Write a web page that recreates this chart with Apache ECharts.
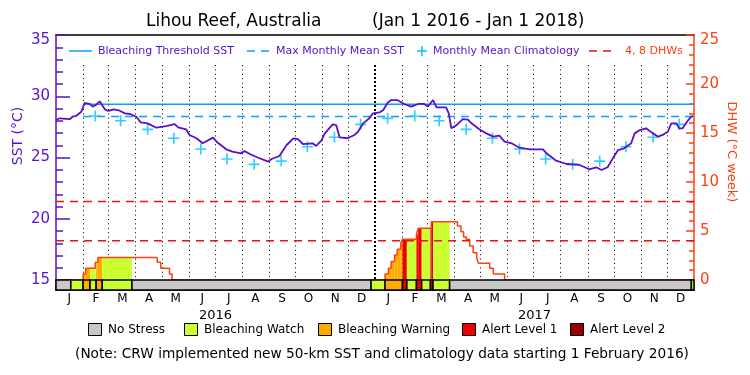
<!DOCTYPE html>
<html>
<head>
<meta charset="utf-8">
<script src="https://cdn.jsdelivr.net/npm/echarts@6/dist/echarts.min.js"></script>
<style>
html, body { margin: 0; padding: 0; background: #fff; }
#chart { width: 750px; height: 375px; }
</style>
</head>
<body>
<div id="chart"></div>
<script>
// daily SST
var sstDates = ['2016-01-01','2016-01-05','2016-01-17','2016-01-20','2016-01-24','2016-01-30','2016-02-03','2016-02-05','2016-02-09','2016-02-12','2016-02-16','2016-02-20','2016-02-26','2016-03-01','2016-03-07','2016-03-14','2016-03-20','2016-03-26','2016-04-02','2016-04-07','2016-04-15','2016-04-25','2016-05-06','2016-05-16','2016-05-20','2016-05-29','2016-06-02','2016-06-10','2016-06-17','2016-06-29','2016-07-03','2016-07-14','2016-07-21','2016-07-31','2016-08-04','2016-08-10','2016-08-19','2016-08-31','2016-09-04','2016-09-13','2016-09-21','2016-09-29','2016-10-04','2016-10-10','2016-10-21','2016-10-25','2016-10-31','2016-11-04','2016-11-13','2016-11-17','2016-11-21','2016-11-30','2016-12-08','2016-12-12','2016-12-18','2016-12-25','2016-12-29','2017-01-06','2017-01-10','2017-01-15','2017-01-19','2017-01-26','2017-02-03','2017-02-11','2017-02-19','2017-02-26','2017-03-02','2017-03-08','2017-03-12','2017-03-23','2017-03-26','2017-03-29','2017-04-04','2017-04-11','2017-04-17','2017-04-21','2017-04-30','2017-05-08','2017-05-16','2017-05-23','2017-05-29','2017-06-06','2017-06-15','2017-06-27','2017-07-12','2017-07-16','2017-07-27','2017-08-08','2017-08-23','2017-09-03','2017-09-11','2017-09-17','2017-09-24','2017-09-30','2017-10-06','2017-10-13','2017-10-21','2017-10-25','2017-10-31','2017-11-07','2017-11-15','2017-11-21','2017-11-26','2017-12-02','2017-12-06','2017-12-12','2017-12-15','2017-12-19','2017-12-24','2017-12-28','2017-12-31'];
var sstValues = [28.06,28.2,28.14,28.33,28.39,28.74,29.47,29.59,29.35,29.15,29.3,29.59,28.93,28.8,28.93,28.82,28.6,28.55,28.33,27.87,27.79,27.43,27.57,27.73,27.46,27.3,26.84,26.57,26.16,26.62,26.29,25.67,25.48,25.34,25.53,25.29,25.0,24.66,24.88,25.12,26.0,26.57,26.5,26.1,26.16,25.94,26.37,26.97,27.71,27.65,26.65,26.57,26.84,27.1,27.79,28.2,28.6,28.69,28.88,29.47,29.69,29.69,29.37,29.15,29.37,29.37,29.15,29.69,29.1,29.1,28.6,27.38,27.65,28.14,28.1,27.79,27.3,26.97,26.7,26.78,26.29,26.16,25.8,25.67,25.67,25.34,24.74,24.47,24.39,24.04,24.2,23.98,24.2,24.93,25.61,25.75,26.16,26.97,27.24,27.38,26.97,26.7,26.84,27.1,27.79,27.79,27.38,27.38,27.92,28.28,28.39];

// monthly mean climatology (crosses, mid-month)
var climDates = ['2016-02-15','2016-03-15','2016-04-15','2016-05-15','2016-06-15','2016-07-15','2016-08-15','2016-09-15','2016-10-15','2016-11-15','2016-12-15','2017-01-15','2017-02-15','2017-03-15','2017-04-15','2017-05-15','2017-06-15','2017-07-15','2017-08-15','2017-09-15','2017-10-15','2017-11-15','2017-12-15'];
var climValues = [28.39,28.0,27.3,26.57,25.69,24.88,24.44,24.71,25.88,26.65,27.71,28.2,28.39,28.0,27.3,26.57,25.69,24.88,24.44,24.71,25.88,26.65,27.71];

var mmmSST = 28.35;
var thresholdSST = 29.35;
var thresholdStart = '2016-02-01';
var dhwMarks = [4, 8];

// degree heating weeks, each value holds until the next date
var dhwDates = ['2016-02-01','2016-02-04','2016-02-15','2016-02-18','2016-04-26','2016-04-30','2016-05-10','2016-05-13',
  '2017-01-12','2017-01-16','2017-01-19','2017-01-23','2017-01-26','2017-01-30','2017-02-01','2017-02-17','2017-02-19','2017-03-06','2017-04-05','2017-04-09','2017-04-12','2017-04-15','2017-04-19','2017-04-23','2017-04-27','2017-04-29','2017-05-12','2017-05-16','2017-05-29'];
var dhwValues = [0.6,1.2,1.8,2.3,1.8,1.2,0.6,0,
  0.6,1.2,1.9,2.55,3.13,3.74,4.15,4.66,5.27,5.95,5.51,4.93,4.4,4.15,3.47,2.79,2.21,1.7,1.19,0.61,0];

// stress level, each level holds until the next date
var stressStarts = ['2016-01-01','2016-01-18','2016-02-01','2016-02-09','2016-02-16','2016-02-23','2016-03-28','2016-12-27','2017-01-12','2017-02-01','2017-02-06','2017-02-17','2017-02-23','2017-03-05','2017-03-08','2017-03-27','2017-12-29'];
var stressLevels = ['none','watch','warning','watch','warning','watch','none','watch','warning','alert1','watch','alert1','watch','alert1','watch','none','watch'];

var monthStarts = ['2016-02-01','2016-03-01','2016-04-01','2016-05-01','2016-06-01','2016-07-01','2016-08-01','2016-09-01','2016-10-01','2016-11-01','2016-12-01','2017-01-01','2017-02-01','2017-03-01','2017-04-01','2017-05-01','2017-06-01','2017-07-01','2017-08-01','2017-09-01','2017-10-01','2017-11-01','2017-12-01'];
var monthLabels = ['J','F','M','A','M','J','J','A','S','O','N','D','J','F','M','A','M','J','J','A','S','O','N','D'];
var yearLabels = ['2016', '2017'];

var legendNames = ['No Stress', 'Bleaching Watch', 'Bleaching Warning', 'Alert Level 1', 'Alert Level 2'];
var legendKeys = ['none', 'watch', 'warning', 'alert1', 'alert2'];

var FONT = 'DejaVu Sans';
var PURPLE = '#5a10c8';
var ORANGE = '#ff4010';
var BLUE = '#0aa0ff';
var CYAN = '#00c0ff';
var RED = '#ee1111';
var stressColors = { none: '#c8c8c8', watch: '#ccff33', warning: '#ffaa00', alert1: '#ee0000', alert2: '#990000' };
var X_MIN = '2016-01-01', X_MAX = '2018-01-01';

function levelAt(d) {
  var lv = 'none';
  for (var i = 0; i < stressStarts.length; i++) if (stressStarts[i] <= d) lv = stressLevels[i];
  return lv;
}
function dhwAt(d) {
  var v = 0;
  for (var i = 0; i < dhwDates.length; i++) if (dhwDates[i] <= d) v = dhwValues[i];
  return v;
}

var sstData = sstDates.map(function (d, i) { return [d, sstValues[i]]; });
var climData = climDates.map(function (d, i) { return [d, climValues[i]]; });

var stressData = stressStarts.map(function (d, i) {
  return [d, stressStarts[i + 1] || X_MAX, i];
});

// coloured DHW pieces: split at every dhw step and stress change
var breaks = dhwDates.concat(stressStarts, [X_MAX]).filter(function (d, i, a) { return a.indexOf(d) === i; }).sort();
var dhwFill = [];
for (var i = 0; i < breaks.length - 1; i++) {
  var v = dhwAt(breaks[i]), lv = levelAt(breaks[i]);
  if (v > 0 && lv !== 'none') dhwFill.push([breaks[i], breaks[i + 1], v, stressColors[lv]]);
}
var dhwLine = [[X_MIN, 0]].concat(dhwDates.map(function (d, i) { return [d, dhwValues[i]]; }), [[X_MAX, 0]]);

var myChart = echarts.init(document.getElementById('chart'));

var graphic = [
  { type: 'line', shape: { x1: 69, y1: 51, x2: 92, y2: 51 }, style: { stroke: BLUE, lineWidth: 1.5 } },
  { type: 'text', x: 98, y: 51, style: { text: 'Bleaching Threshold SST', fill: PURPLE, font: '11px ' + FONT, verticalAlign: 'middle' } },
  { type: 'line', shape: { x1: 247, y1: 51, x2: 269, y2: 51 }, style: { stroke: BLUE, lineWidth: 1.5, lineDash: [8, 6] } },
  { type: 'text', x: 276, y: 51, style: { text: 'Max Monthly Mean SST', fill: PURPLE, font: '11px ' + FONT, verticalAlign: 'middle' } },
  { type: 'line', shape: { x1: 417, y1: 51, x2: 427, y2: 51 }, style: { stroke: CYAN, lineWidth: 1.5 } },
  { type: 'line', shape: { x1: 422, y1: 46, x2: 422, y2: 56 }, style: { stroke: CYAN, lineWidth: 1.5 } },
  { type: 'text', x: 433, y: 51, style: { text: 'Monthly Mean Climatology', fill: PURPLE, font: '11px ' + FONT, verticalAlign: 'middle' } },
  { type: 'line', shape: { x1: 589, y1: 51, x2: 612, y2: 51 }, style: { stroke: RED, lineWidth: 1.5, lineDash: [8, 6] } },
  { type: 'text', x: 625, y: 51, style: { text: '4, 8 DHWs', fill: ORANGE, font: '11px ' + FONT, verticalAlign: 'middle' } },
  { type: 'text', x: 18, y: 136, rotation: Math.PI / 2, style: { text: 'SST (°C)', fill: PURPLE, font: '14px ' + FONT, align: 'center', verticalAlign: 'middle' } },
  { type: 'text', x: 731, y: 152, rotation: -Math.PI / 2, style: { text: 'DHW (°C week)', fill: ORANGE, font: '13px ' + FONT, align: 'center', verticalAlign: 'middle' } },
  { type: 'text', x: 382, y: 354, style: { text: '(Note: CRW implemented new 50-km SST and climatology data starting 1 February 2016)', fill: '#000', font: '13.7px ' + FONT, align: 'center', verticalAlign: 'middle' } }
];
var legX = [88, 184, 318, 462, 570];
legendKeys.forEach(function (k, i) {
  graphic.push({ type: 'rect', shape: { x: legX[i] + 0.5, y: 323.5, width: 13, height: 12 }, style: { fill: stressColors[k], stroke: '#000', lineWidth: 1 } });
  graphic.push({ type: 'text', x: legX[i] + 20, y: 330, style: { text: legendNames[i], fill: '#000', font: '12px ' + FONT, verticalAlign: 'middle' } });
});

myChart.setOption({
  animation: false,
  backgroundColor: '#fff',
  title: [
    { text: 'Lihou Reef, Australia', left: 146, top: 13, padding: 0, textStyle: { fontFamily: FONT, fontSize: 17, fontWeight: 'normal', color: '#000' } },
    { text: '(Jan 1 2016 - Jan 1 2018)', left: 372, top: 13, padding: 0, textStyle: { fontFamily: FONT, fontSize: 17, fontWeight: 'normal', color: '#000' } }
  ],
  grid: [
    { left: 56, right: 56, top: 35, height: 245 },
    { left: 56, right: 56, top: 280, height: 10 },
    { left: 56, right: 56, top: 65, height: 215 }
  ],
  xAxis: [
    { gridIndex: 0, type: 'time', min: X_MIN, max: X_MAX, position: 'top',
      axisLine: { show: true, onZero: false, lineStyle: { color: '#000', width: 1.5 } },
      axisTick: { show: false }, axisLabel: { show: false }, splitLine: { show: false } },
    { gridIndex: 1, type: 'time', min: X_MIN, max: X_MAX, position: 'bottom',
      axisLine: { show: true, onZero: false, lineStyle: { color: '#000', width: 1.5 } },
      axisTick: { show: false }, axisLabel: { show: false }, splitLine: { show: false } },
    { gridIndex: 1, type: 'category', data: monthLabels, position: 'bottom',
      axisLine: { show: false, onZero: false }, axisTick: { show: false }, splitLine: { show: false },
      axisLabel: { color: '#000', fontFamily: FONT, fontSize: 12, margin: 3, interval: 0 } },
    { gridIndex: 1, type: 'category', data: yearLabels, position: 'bottom', offset: 16,
      axisLine: { show: false, onZero: false }, axisTick: { show: false }, splitLine: { show: false },
      axisLabel: { color: '#000', fontFamily: FONT, fontSize: 13, margin: 3, interval: 0 } },
    { gridIndex: 2, type: 'time', min: X_MIN, max: X_MAX, show: false }
  ],
  yAxis: [
    { gridIndex: 0, type: 'value', min: 15, max: 35, interval: 5, position: 'left',
      axisLine: { show: true, lineStyle: { color: PURPLE, width: 1.5 } },
      axisTick: { show: true, inside: true, length: 14, lineStyle: { color: PURPLE, width: 1.5 } },
      minorTick: { show: true, splitNumber: 5, length: 7, lineStyle: { color: PURPLE, width: 1.5 } },
      splitLine: { show: false },
      axisLabel: { color: PURPLE, fontFamily: FONT, fontSize: 15, margin: 6,
        formatter: function (v) { return v === 35 ? '{t|35}' : String(v); },
        rich: { t: { color: PURPLE, fontFamily: FONT, fontSize: 15, padding: [10, 0, 0, 0] } } } },
    { gridIndex: 0, type: 'value', min: 0, max: 25, interval: 5, position: 'right',
      axisLine: { show: true, lineStyle: { color: ORANGE, width: 1.5 } },
      axisTick: { show: true, inside: true, length: 8, lineStyle: { color: ORANGE, width: 1.5 } },
      minorTick: { show: true, splitNumber: 5, length: 5, lineStyle: { color: ORANGE, width: 1.5 } },
      splitLine: { show: false },
      axisLabel: { color: ORANGE, fontFamily: FONT, fontSize: 15, margin: 6,
        formatter: function (v) { return v === 25 ? '{t|25}' : String(v); },
        rich: { t: { color: ORANGE, fontFamily: FONT, fontSize: 15, padding: [10, 0, 0, 0] } } } },
    { gridIndex: 1, type: 'value', min: 0, max: 1, position: 'left',
      axisLine: { show: true, lineStyle: { color: PURPLE, width: 1.5 } },
      axisTick: { show: false }, axisLabel: { show: false }, splitLine: { show: false } },
    { gridIndex: 1, type: 'value', min: 0, max: 1, position: 'right',
      axisLine: { show: true, lineStyle: { color: ORANGE, width: 1.5 } },
      axisTick: { show: false }, axisLabel: { show: false }, splitLine: { show: false } },
    { gridIndex: 2, type: 'value', min: 0, max: 1, show: false }
  ],
  graphic: graphic,
  series: [
    {
      name: 'month lines', type: 'custom', xAxisIndex: 4, yAxisIndex: 4, z: 1,
      data: monthStarts.map(function (d) { return [d, d.slice(5) === '01-01' ? 1 : 0]; }),
      encode: { x: 0 },
      renderItem: function (params, api) {
        var top = api.coord([api.value(0), 1]);
        var bot = api.coord([api.value(0), 0]);
        var yr = api.value(1) === 1;
        var x = yr ? Math.round(top[0]) : Math.round(top[0]) + 0.5;
        return { type: 'line', shape: { x1: x, y1: top[1], x2: x, y2: bot[1] },
          style: { stroke: '#000', lineWidth: yr ? 2 : 1, lineDash: yr ? [2, 2] : [1, 3.4] } };
      }
    },
    {
      name: 'DHW fill', type: 'custom', xAxisIndex: 0, yAxisIndex: 1, z: 2,
      data: dhwFill,
      dimensions: [{ name: 'start', type: 'time' }, { name: 'end', type: 'time' }, { name: 'dhw', type: 'float' }, { name: 'color', type: 'ordinal' }],
      encode: { x: [0, 1], y: 2 },
      renderItem: function (params, api) {
        var p0 = api.coord([api.value(0), api.value(2)]);
        var p1 = api.coord([api.value(1), 0]);
        return { type: 'rect', shape: { x: p0[0], y: p0[1], width: p1[0] - p0[0], height: p1[1] - p0[1] },
          style: { fill: dhwFill[params.dataIndex][3] } };
      }
    },
    {
      name: 'DHW', type: 'line', xAxisIndex: 0, yAxisIndex: 1, z: 3,
      data: dhwLine, step: 'end', symbol: 'none',
      lineStyle: { color: ORANGE, width: 1.5 }
    },
    {
      name: '4, 8 DHWs', type: 'line', xAxisIndex: 0, yAxisIndex: 1, z: 3, symbol: 'none',
      data: [[X_MIN, dhwMarks[0]], [X_MAX, dhwMarks[0]]],
      lineStyle: { color: RED, width: 1.5, type: [8, 6] }
    },
    {
      name: '8 DHWs', type: 'line', xAxisIndex: 0, yAxisIndex: 1, z: 3, symbol: 'none',
      data: [[X_MIN, dhwMarks[1]], [X_MAX, dhwMarks[1]]],
      lineStyle: { color: RED, width: 1.5, type: [8, 6] }
    },
    {
      name: 'Bleaching Threshold SST', type: 'line', xAxisIndex: 0, yAxisIndex: 0, z: 4, symbol: 'none',
      data: [[thresholdStart, thresholdSST], [X_MAX, thresholdSST]],
      lineStyle: { color: BLUE, width: 1.5 }
    },
    {
      name: 'Max Monthly Mean SST', type: 'line', xAxisIndex: 0, yAxisIndex: 0, z: 4, symbol: 'none',
      data: [[thresholdStart, mmmSST], [X_MAX, mmmSST]],
      lineStyle: { color: BLUE, width: 1.5, type: [8, 6] }
    },
    {
      name: 'Monthly Mean Climatology', type: 'scatter', xAxisIndex: 0, yAxisIndex: 0, z: 5,
      data: climData, symbol: 'path://M4.25,0H5.75V10H4.25ZM0,4.25H10V5.75H0Z', symbolSize: 11,
      itemStyle: { color: CYAN }
    },
    {
      name: 'SST', type: 'line', xAxisIndex: 0, yAxisIndex: 0, z: 6,
      data: sstData, symbol: 'none',
      lineStyle: { color: PURPLE, width: 1.8 }
    },
    {
      name: 'Stress', type: 'custom', xAxisIndex: 1, yAxisIndex: 2, z: 7,
      data: stressData,
      dimensions: [{ name: 'start', type: 'time' }, { name: 'end', type: 'time' }, { name: 'idx', type: 'int' }],
      encode: { x: [0, 1] },
      renderItem: function (params, api) {
        var p0 = api.coord([api.value(0), 1]);
        var p1 = api.coord([api.value(1), 0]);
        return { type: 'rect', shape: { x: p0[0], y: p0[1], width: p1[0] - p0[0], height: p1[1] - p0[1] },
          style: { fill: stressColors[stressLevels[params.dataIndex]], stroke: '#000', lineWidth: 1.5 } };
      }
    }
  ]
});
</script>
</body>
</html>
